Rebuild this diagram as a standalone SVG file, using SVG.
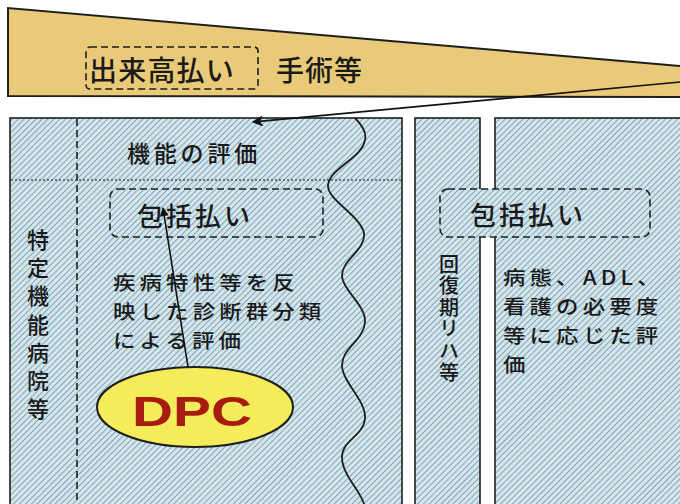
<svg xmlns="http://www.w3.org/2000/svg" width="680" height="504" viewBox="0 0 680 504">
<defs>
<pattern id="hatch" patternUnits="userSpaceOnUse" width="4.2" height="4.2" patternTransform="rotate(45)">
<rect width="4.2" height="4.2" fill="#d4e6ec"/>
<line x1="0" y1="0" x2="0" y2="4.2" stroke="#7ca2b2" stroke-width="1.9"/>
</pattern>
<marker id="ah" viewBox="0 0 10 10" refX="9" refY="5" markerWidth="16" markerHeight="11" markerUnits="userSpaceOnUse" orient="auto">
<path d="M0,0 L10,5 L0,10 L2.5,5 z" fill="#111"/>
</marker>
<marker id="ahs" viewBox="0 0 10 10" refX="9" refY="5" markerWidth="11" markerHeight="9" markerUnits="userSpaceOnUse" orient="auto">
<path d="M0,0 L10,5 L0,10 z" fill="#111"/>
</marker>
</defs>
<style>
.jp{font-family:"Noto Sans CJK JP","Noto Sans CJK SC",sans-serif;font-weight:500;fill:#1a1a1a;dominant-baseline:central}
.body{font-size:19.5px;letter-spacing:3.6px}
.vert{writing-mode:vertical-rl;text-orientation:upright}
.vl{font-size:22px}
.vm{font-size:20px}
.box{fill:url(#hatch);stroke:#1e1e1e;stroke-width:1.6}
.dash{fill:none;stroke:#1e1e1e;stroke-width:1.6;stroke-dasharray:7 4}
.conn{fill:none;stroke:#111;stroke-width:1.6}
</style>
<rect width="680" height="504" fill="#ffffff"/>

<g id="wedge">
<polygon points="8,8 680,66 680,97 8,96" fill="#e9ca78"/>
<polyline points="680,66 8,8 8,96 680,97" fill="none" stroke="#1e1e1e" stroke-width="2"/>
<rect x="86" y="47" width="172" height="42" rx="4" class="dash"/>
<text class="jp" x="89" y="69" font-size="28" letter-spacing="1.2">出来高払い</text>
<text class="jp" x="276" y="69" font-size="28" letter-spacing="1">手術等</text>
</g>

<g id="tokutei">
<rect x="10" y="118" width="392" height="400" class="box"/>
<line x1="77" y1="119" x2="77" y2="504" class="dash"/>
<line x1="11" y1="180" x2="401" y2="180" stroke="#4a5a60" stroke-width="1.4" stroke-dasharray="2 2"/>
<path d="M355,118 C362,125 367,132 365,140 C362,158 330,168 328,185 C327,200 360,215 364,233 C366,250 342,260 342,275 C342,290 366,305 365,322 C364,340 342,348 342,365 C342,382 366,400 365,418 C364,436 342,440 342,457 C342,475 360,490 364,504" fill="none" stroke="#1e1e1e" stroke-width="1.8"/>
<text class="jp" x="127" y="152" font-size="23" letter-spacing="3.8">機能の評価</text>
<rect x="110" y="189" width="213" height="48" rx="8" class="dash"/>
<text class="jp" x="137" y="214" font-size="26" letter-spacing="3">包括払い</text>
<g transform="translate(113 0) scale(1.15 1)">
<text class="jp body" x="0" y="282">疾病特性等を反</text>
<text class="jp body" x="0" y="311">映した診断群分類</text>
<text class="jp body" x="0" y="340">による評価</text>
</g>
<text class="jp vert vl" x="38" y="229">特</text>
<text class="jp vert vl" x="38" y="257">定</text>
<text class="jp vert vl" x="38" y="285">機</text>
<text class="jp vert vl" x="38" y="314">能</text>
<text class="jp vert vl" x="38" y="342">病</text>
<text class="jp vert vl" x="38" y="370">院</text>
<text class="jp vert vl" x="38" y="398">等</text>
</g>

<g id="kaifuku">
<rect x="415" y="118" width="65" height="400" class="box"/>
<text class="jp vert vm" x="449" y="254">回</text>
<text class="jp vert vm" x="449" y="275.6">復</text>
<text class="jp vert vm" x="449" y="297.2">期</text>
<text class="jp vert vm" x="449" y="318.8">リ</text>
<text class="jp vert vm" x="449" y="340.4">ハ</text>
<text class="jp vert vm" x="449" y="362">等</text>
</g>

<g id="ryoyo">
<rect x="495" y="118" width="200" height="400" class="box"/>
<g transform="translate(503 0) scale(1.15 1)">
<text class="jp body" x="0" y="277" letter-spacing="3.1">病態、ADL、</text>
<text class="jp body" x="0" y="306" letter-spacing="3.1">看護の必要度</text>
<text class="jp body" x="0" y="335" letter-spacing="3.1">等に応じた評</text>
<text class="jp body" x="0" y="364" letter-spacing="3.1">価</text>
</g>
</g>

<g id="hokatsu-right">
<rect x="440" y="189" width="210" height="48" rx="8" fill="url(#hatch)"/>
<rect x="440" y="189" width="210" height="48" rx="8" class="dash"/>
<text class="jp" x="470" y="213" font-size="26" letter-spacing="3">包括払い</text>
</g>

<g id="dpc">
<ellipse cx="195" cy="407" rx="98" ry="40" fill="#f4ec5a" stroke="#1e1e1e" stroke-width="2"/>
<text x="192" y="411" font-family="'Liberation Sans',Arial,sans-serif" font-weight="bold" font-size="42" fill="#a81c10" text-anchor="middle" dominant-baseline="central" textLength="120" lengthAdjust="spacingAndGlyphs">DPC</text>
</g>

<g id="connectors">
<path d="M680,82 Q470,101 253,122" class="conn" marker-end="url(#ah)"/>
<line x1="188" y1="367" x2="163" y2="208" class="conn" marker-end="url(#ahs)"/>
</g>
</svg>
